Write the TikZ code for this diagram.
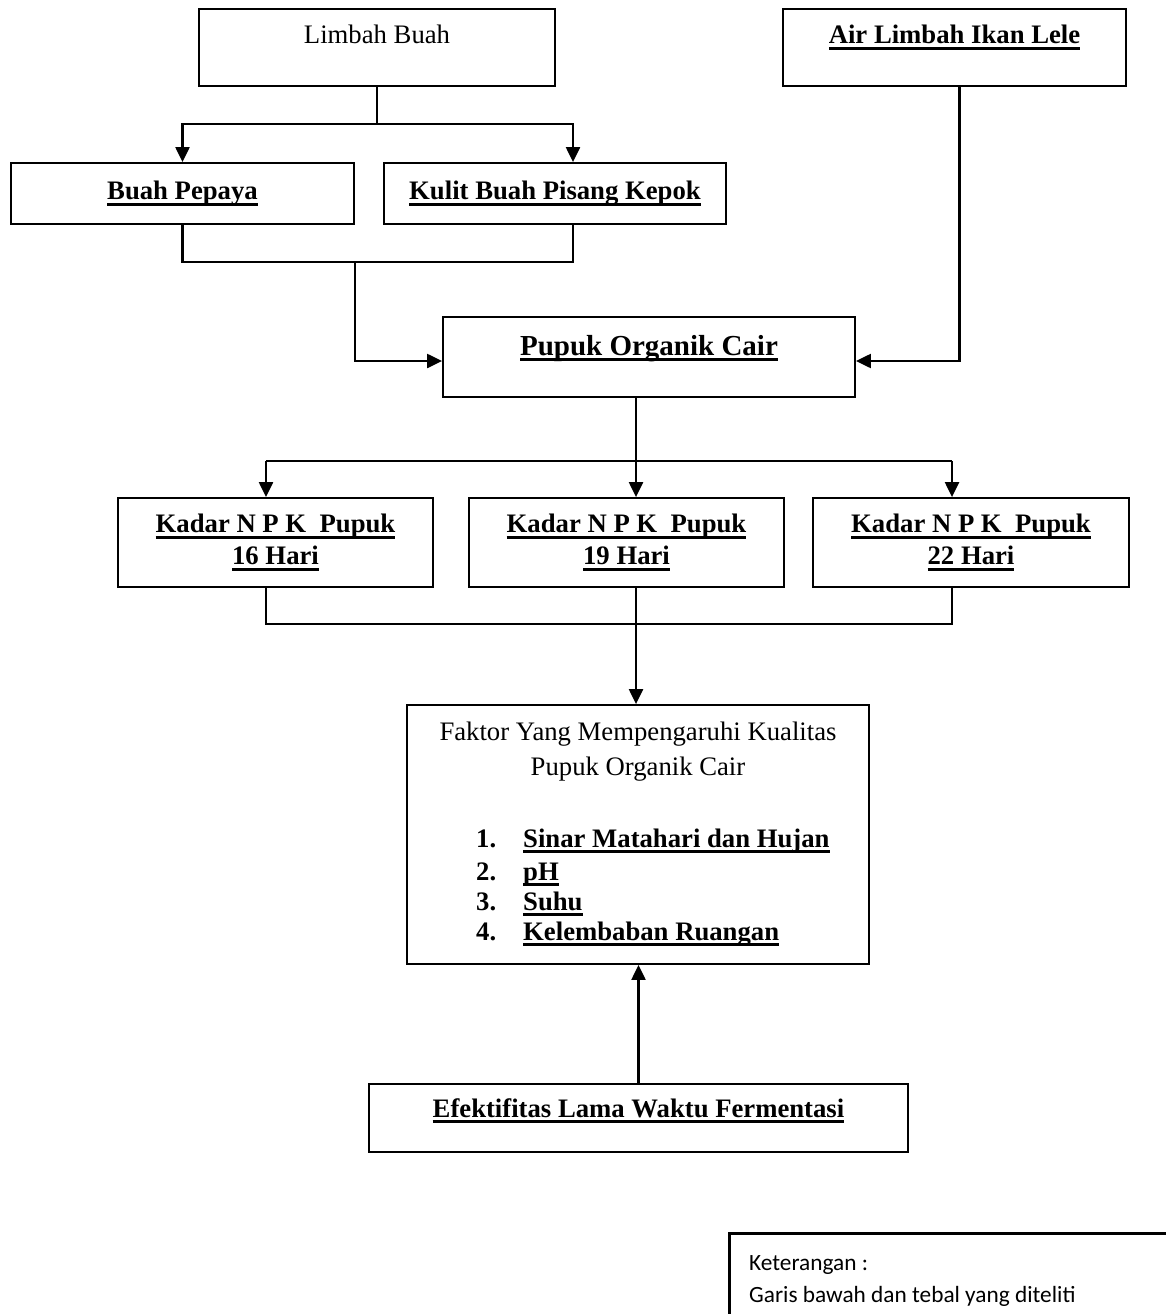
\documentclass[tikz,border=0pt]{standalone}
\usepackage{fontspec}
\setmainfont{Liberation Serif}
\newfontfamily\calibri{Carlito}
\usetikzlibrary{arrows.meta}

\newcommand{\bodysize}{\fontsize{26.7}{32}\selectfont}
\newcommand{\headsize}{\fontsize{29}{34}\selectfont}
\newcommand{\ketsize}{\fontsize{23.3}{28}\selectfont}
% thick underline, as in the scanned chart
\newcommand{\undl}[1]{\setbox0=\hbox{#1}\rlap{\rule[-6pt]{\wd0}{2.6pt}}\box0}

\tikzset{
  box/.style={draw, line width=1.8pt, inner sep=0pt},
  bbox/.style={box, align=center, font=\bodysize\bfseries},
  conn/.style={line width=2.2pt},
  arr/.style={conn, -{Triangle[length=15pt,width=14pt]}},
  lbl/.style={anchor=base, inner sep=0pt, font=\bodysize}
}

\begin{document}
\begin{tikzpicture}[x=1pt, y=-1pt]
        \clip (0,0) rectangle (1166,1314);

        % Top boxes
        \node[box, minimum width=356, minimum height=77] (limbah) at (377,47.5) {};
        \node[lbl] (limbahtxt) at (377,44) {Limbah Buah};
        \node[box, minimum width=343, minimum height=77] (air) at (954.5,47.5) {};
        \node[lbl, font=\bodysize\bfseries] (airtxt) at (954.5,44) {\undl{Air Limbah Ikan Lele}};

        \node[bbox, minimum width=343, minimum height=61] (pepaya) at (182.5,193.5) {\undl{Buah Pepaya}};
        \node[bbox, minimum width=342, minimum height=61] (kulit) at (555,193.5) {\undl{Kulit Buah Pisang Kepok}};

        % Pupuk
        \node[box, minimum width=412, minimum height=80] (pupuk) at (649,357) {};
        \node[lbl, font=\headsize\bfseries] (pupuktxt) at (649,355) {\undl{Pupuk Organik Cair}};

        % Kadar NPK
        \node[bbox, minimum width=315, minimum height=89] (k16) at (275.5,542.5) {\undl{Kadar N P K~~Pupuk}\\\undl{16 Hari}};
        \node[bbox, minimum width=315, minimum height=89] (k19) at (626.5,542.5) {\undl{Kadar N P K~~Pupuk}\\\undl{19 Hari}};
        \node[bbox, minimum width=316, minimum height=89] (k22) at (971,542.5) {\undl{Kadar N P K~~Pupuk}\\\undl{22 Hari}};

        % Faktor
        \node[box, minimum width=462, minimum height=259] (faktor) at (638,834.5) {};
        \node[lbl] (fak1) at (638,740) {Faktor Yang Mempengaruhi Kualitas};
        \node[lbl] (fak2) at (638,775) {Pupuk Organik Cair};
        \node[lbl, anchor=base west, font=\bodysize\bfseries] (n1) at (476,847) {1.};
        \node[lbl, anchor=base west, font=\bodysize\bfseries] (i1) at (523,847) {\undl{Sinar Matahari dan Hujan}};
        \node[lbl, anchor=base west, font=\bodysize\bfseries] (n2) at (476,880) {2.};
        \node[lbl, anchor=base west, font=\bodysize\bfseries] (i2) at (523,880) {\undl{pH}};
        \node[lbl, anchor=base west, font=\bodysize\bfseries] (n3) at (476,910) {3.};
        \node[lbl, anchor=base west, font=\bodysize\bfseries] (i3) at (523,910) {\undl{Suhu}};
        \node[lbl, anchor=base west, font=\bodysize\bfseries] (n4) at (476,940) {4.};
        \node[lbl, anchor=base west, font=\bodysize\bfseries] (i4) at (523,940) {\undl{Kelembaban Ruangan}};

        % Efektifitas
        \node[box, minimum width=539, minimum height=68] (efek) at (638.5,1118) {};
        \node[lbl, font=\bodysize\bfseries] (efektxt) at (638.5,1117) {\undl{Efektifitas Lama Waktu Fermentasi}};

        % Keterangan
        \node[draw, line width=2.5pt, inner sep=0pt, anchor=north west, minimum width=480, minimum height=120] (ket) at (728,1232) {};
        \node[anchor=base west, inner sep=0pt, font=\calibri\ketsize] (ket1) at (749,1270) {Keterangan :};
        \node[anchor=base west, inner sep=0pt, font=\calibri\ketsize] (ket2) at (749,1302) {Garis bawah dan tebal yang diteliti};

        % Junctions
        \coordinate (j1) at (377,124);
        \coordinate (j2) at (355,262);
        \coordinate (j3) at (636,461);
        \coordinate (a16) at (266,461);
        \coordinate (a22) at (952,461);
        \coordinate (b16) at (266,624);
        \coordinate (b19) at (636,624);
        \coordinate (b22) at (952,624);
        \coordinate (kulittop) at ([xshift=18]kulit.north);
        \coordinate (kulitbot) at ([xshift=18]kulit.south);

        % Connectors
        \draw[conn] (limbah.south) -- (j1);
        \draw[arr] (j1) -| (pepaya.north);
        \draw[arr] (j1) -| (kulittop);

        \draw[conn] (pepaya.south) |- (kulitbot |- j2) -- (kulitbot);
        \draw[arr] (j2) |- ([yshift=-4]pupuk.west);
        \draw[arr] ([xshift=5]air.south) |- ([yshift=-4]pupuk.east);

        \draw[conn] ([xshift=-13]pupuk.south) -- (j3);
        \draw[conn] (a16) -- (a22);
        \draw[arr] (a16) -- (a16 |- k16.north);
        \draw[arr] (j3) -- (j3 |- k19.north);
        \draw[arr] (a22) -- (a22 |- k22.north);

        \draw[conn] (b16 |- k16.south) -- (b16) -- (b22) -- (b22 |- k22.south);
        \draw[conn] (b19 |- k19.south) -- (b19);
        \draw[arr] (b19) -- (b19 |- faktor.north);
        \draw[arr] (efek.north) -- (efek.north |- faktor.south);
\end{tikzpicture}
\end{document}
